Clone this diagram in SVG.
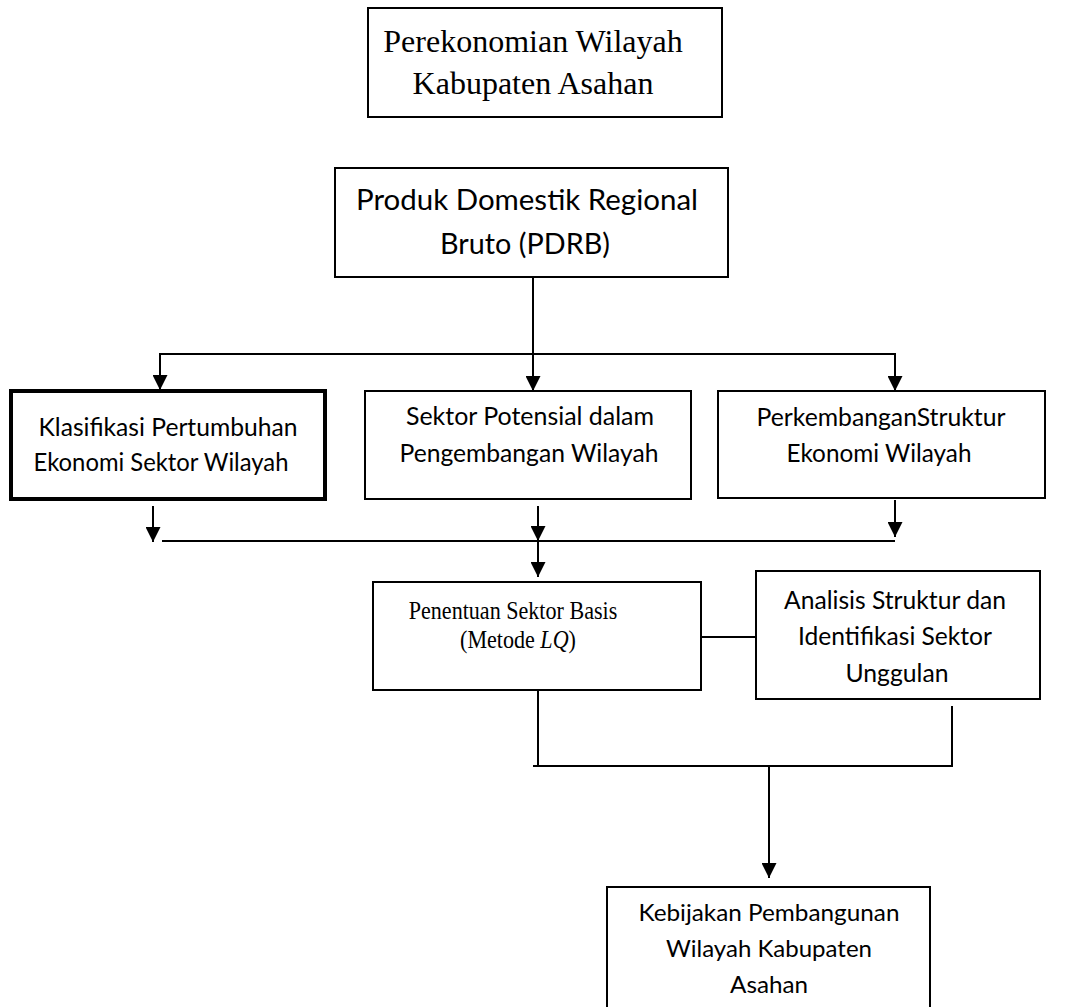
<svg xmlns="http://www.w3.org/2000/svg" width="1078" height="1007" viewBox="0 0 1078 1007">
<defs>
<marker id="arr" viewBox="0 0 10 10" refX="10" refY="5" markerWidth="15" markerHeight="15" markerUnits="userSpaceOnUse" orient="auto">
<path d="M0,0 L10,5 L0,10 z" fill="#000"/>
</marker>
<style>
.box{fill:#fff;stroke:#000;stroke-width:2}
.thick{stroke-width:4}
.serif{font-family:"Liberation Serif","Times New Roman",serif;fill:#000;text-anchor:middle}
.sans{font-family:Lato,"Liberation Sans",sans-serif;fill:#000;text-anchor:middle}
.s1{font-size:24.4px}
.s2{font-size:29.5px}
.s3{font-size:24px}
.con{fill:none;stroke:#000;stroke-width:2}
.arr{marker-end:url(#arr)}
</style>
</defs>
<rect width="1078" height="1007" fill="#fff"/>

<g id="connectors">
<path class="con arr" d="M533,277 V391"/>
<path class="con arr" d="M533,354 H160 V390"/>
<path class="con arr" d="M533,354 H895 V391"/>
<path class="con arr" d="M153,506 V542"/>
<path class="con arr" d="M538,506 V541"/>
<path class="con arr" d="M895,500 V537"/>
<path class="con" d="M162,541 H895"/>
<path class="con arr" d="M538,541 V577"/>
<path class="con" d="M701,637 H756"/>
<path class="con" d="M538,690 V766"/>
<path class="con" d="M533,766 H952 V706"/>
<path class="con arr" d="M769,766 V878"/>
</g>

<g id="node-perekonomian">
<rect class="box" x="368" y="8" width="354" height="109"/>
<text class="serif" font-size="32" x="533" y="52">Perekonomian Wilayah</text>
<text class="serif" font-size="32" x="533" y="94">Kabupaten Asahan</text>
</g>

<g id="node-pdrb">
<rect class="box" x="335" y="168" width="393" height="109"/>
<text class="sans s2" x="527" y="210" textLength="342" lengthAdjust="spacingAndGlyphs">Produk Domestik Regional</text>
<text class="sans s2" x="525" y="254" textLength="170" lengthAdjust="spacingAndGlyphs">Bruto (PDRB)</text>
</g>

<g id="node-klasifikasi">
<rect class="box thick" x="11" y="391" width="314" height="108"/>
<text class="sans s1" x="168" y="436" textLength="259" lengthAdjust="spacingAndGlyphs">Klasifikasi Pertumbuhan</text>
<text class="sans s1" x="161" y="471" textLength="255" lengthAdjust="spacingAndGlyphs">Ekonomi Sektor Wilayah</text>
</g>

<g id="node-sektor">
<rect class="box" x="365" y="391" width="326" height="108"/>
<text class="sans s1" x="530" y="425" textLength="248" lengthAdjust="spacingAndGlyphs">Sektor Potensial dalam</text>
<text class="sans s1" x="529" y="462" textLength="259" lengthAdjust="spacingAndGlyphs">Pengembangan Wilayah</text>
</g>

<g id="node-perkembangan">
<rect class="box" x="718" y="391" width="327" height="107"/>
<text class="sans s1" x="881" y="426" textLength="249" lengthAdjust="spacingAndGlyphs">PerkembanganStruktur</text>
<text class="sans s1" x="879" y="462" textLength="185" lengthAdjust="spacingAndGlyphs">Ekonomi Wilayah</text>
</g>

<g id="node-penentuan">
<rect class="box" x="373" y="582" width="328" height="108"/>
<text class="serif" font-size="26" transform="translate(513,619) scale(0.85,1)">Penentuan Sektor Basis</text>
<text class="serif" font-size="26" transform="translate(518,648) scale(0.85,1)">(Metode <tspan font-style="italic">LQ</tspan>)</text>
</g>

<g id="node-analisis">
<rect class="box" x="756" y="571" width="284" height="128"/>
<text class="sans s1" x="895" y="609" textLength="222" lengthAdjust="spacingAndGlyphs">Analisis Struktur dan</text>
<text class="sans s1" x="895" y="645" textLength="194" lengthAdjust="spacingAndGlyphs">Identifikasi Sektor</text>
<text class="sans s1" x="897" y="682" textLength="103" lengthAdjust="spacingAndGlyphs">Unggulan</text>
</g>

<g id="node-kebijakan">
<rect class="box" x="607" y="887" width="323" height="130"/>
<text class="sans s3" x="769" y="921" textLength="261" lengthAdjust="spacingAndGlyphs">Kebijakan Pembangunan</text>
<text class="sans s3" x="769" y="957" textLength="206" lengthAdjust="spacingAndGlyphs">Wilayah Kabupaten</text>
<text class="sans s3" x="769" y="993" textLength="78" lengthAdjust="spacingAndGlyphs">Asahan</text>
</g>
</svg>
